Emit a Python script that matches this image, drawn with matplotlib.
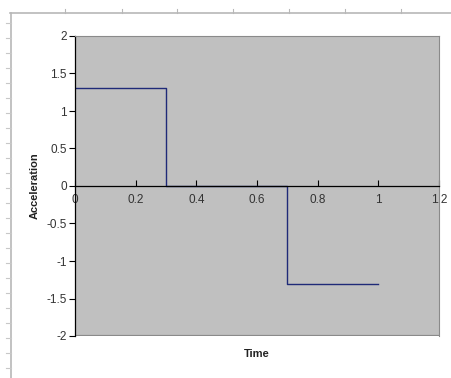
import matplotlib.pyplot as plt
from matplotlib.lines import Line2D

plt.rcParams['font.family'] = ['Liberation Sans', 'DejaVu Sans']

# step profile of the acceleration
time = [0, 0.3, 0.3, 0.7, 0.7, 1.0]
accel = [1.3, 1.3, 0, 0, -1.3, -1.3]

x_ticks = [0, 0.2, 0.4, 0.6, 0.8, 1, 1.2]
x_labels = ['0', '0.2', '0.4', '0.6', '0.8', '1', '1.2']
y_ticks = [-2, -1.5, -1, -0.5, 0, 0.5, 1, 1.5, 2]
y_labels = ['-2', '-1.5', '-1', '-0.5', '0', '0.5', '1', '1.5', '2']

W, H = 452, 378
fig = plt.figure(figsize=(W / 100, H / 100), dpi=100)
fig.patch.set_facecolor('white')

# sheet ruler lines around the chart object
ruler = '#b8b8b8'
fig.add_artist(Line2D([10 / W, 1], [1 - 12.5 / H] * 2, color=ruler, lw=1.2))
fig.add_artist(Line2D([11 / W] * 2, [0, 1 - 12.5 / H], color=ruler, lw=1.2))
for px in [65, 122, 177, 233, 289, 345, 401]:
    fig.add_artist(Line2D([px / W] * 2, [1 - 12.5 / H, 1 - 9 / H], color=ruler, lw=0.8))
for py in range(23, H, 15):
    fig.add_artist(Line2D([6 / W, 11 / W], [1 - py / H] * 2, color='#c8c8c8', lw=0.8))

ax = fig.add_axes([75 / W, 1 - 336 / H, (439 - 75) / W, (336 - 36) / H])
ax.set_facecolor('#c0c0c0')
ax.plot(time, accel, color='#1f2a78', lw=1.0)

ax.set_xlim(0, 1.2)
ax.set_ylim(-2, 2)
ax.set_xticks(x_ticks, x_labels)
ax.set_yticks(y_ticks, y_labels)

for side in ['top', 'right']:
    ax.spines[side].set_color('#8a8a8a')
    ax.spines[side].set_linewidth(0.8)
ax.spines['left'].set_color('black')
ax.spines['left'].set_linewidth(0.9)
ax.spines['bottom'].set_position(('data', 0))
ax.spines['bottom'].set_color('black')
ax.spines['bottom'].set_linewidth(0.9)
# frame edge along the bottom of the plot area
ax.axhline(-2, color='#8a8a8a', lw=1.6)

ax.tick_params(axis='x', direction='in', length=4, width=0.8,
               labelsize=8.5, pad=6, colors='black', labelcolor='#333333')
ax.tick_params(axis='y', direction='out', length=4, width=0.8,
               labelsize=8.5, pad=2, colors='black', labelcolor='#333333')

fig.text(35 / W, 1 - 186 / H, 'Acceleration', rotation=90, ha='center',
         va='center', fontsize=8, fontweight='bold', color='#222222')
fig.text(257 / W, 1 - 354 / H, 'Time', ha='center', va='center',
         fontsize=8, fontweight='bold', color='#222222')

fig.savefig('out.png', dpi=100)
